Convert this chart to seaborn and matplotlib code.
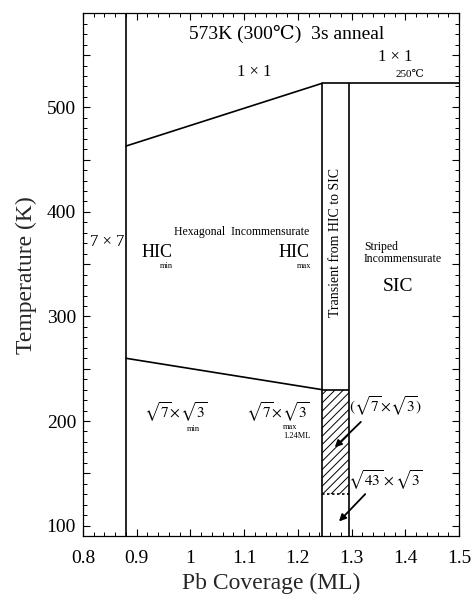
import matplotlib
matplotlib.use("Agg")
import matplotlib.pyplot as plt
from matplotlib.ticker import MultipleLocator, FuncFormatter
import seaborn as sns
import pandas as pd

# ---- data ----
x_7x7_edge = 0.88          # 7x7 / HIC boundary (ML)
x_hic_max = 1.245          # end of HIC region
x_sic = 1.295              # start of SIC region
upper_x = [0.88, 1.245]
upper_T = [463, 523]       # HIC -> 1x1 boundary
lower_x = [0.88, 1.245]
lower_T = [260, 230]       # sqrt7xsqrt3 -> HIC boundary
top_x = [1.245, 1.5]
top_T = [523, 523]         # 1x1 (250 C) line
hatch_x = [1.245, 1.295]
hatch_T = [130, 230]       # hatched (sqrt7 x sqrt3) zone
x_limits = [0.8, 1.5]
T_limits = [90, 590]

sns.set_theme(style="ticks")
plt.rcParams['font.family'] = ['Liberation Serif', 'DejaVu Serif', 'DejaVu Sans']
plt.rcParams['mathtext.fontset'] = 'stix'
plt.rcParams['hatch.linewidth'] = 0.7

fig = plt.figure(figsize=(4.75, 5.97), dpi=100)
ax = fig.add_axes([83/475, 1-536/597, (459-83)/475, (536-13.3)/597])

lw = 1.2
df_up = pd.DataFrame({"x": upper_x, "T": upper_T})
df_lo = pd.DataFrame({"x": lower_x, "T": lower_T})
df_top = pd.DataFrame({"x": top_x, "T": top_T})
sns.lineplot(data=df_up, x="x", y="T", color="black", lw=lw, ax=ax)
sns.lineplot(data=df_lo, x="x", y="T", color="black", lw=lw, ax=ax)
sns.lineplot(data=df_top, x="x", y="T", color="black", lw=lw, ax=ax)
ax.vlines([x_7x7_edge], T_limits[0], T_limits[1], color="black", lw=lw)
ax.vlines([x_hic_max, x_sic], T_limits[0], top_T[0], color="black", lw=lw)
# hatched zone
ax.fill_between(hatch_x, hatch_T[0], hatch_T[1], facecolor="none",
                edgecolor="black", hatch="////", linewidth=0)
ax.hlines(hatch_T[1], hatch_x[0], hatch_x[1], color="black", lw=lw)
ax.hlines(hatch_T[0], hatch_x[0], hatch_x[1], color="black", lw=1.2,
          linestyles=(0, (1.5, 1.5)))

ax.set_xlim(*x_limits)
ax.set_ylim(*T_limits)
ax.xaxis.set_major_locator(MultipleLocator(0.1))
ax.xaxis.set_minor_locator(MultipleLocator(0.02))
ax.yaxis.set_major_locator(MultipleLocator(50))
ax.yaxis.set_minor_locator(MultipleLocator(10))
ax.xaxis.set_major_formatter(FuncFormatter(lambda v, p: f"{v:g}"))
ax.yaxis.set_major_formatter(FuncFormatter(lambda v, p: f"{int(round(v))}" if round(v) % 100 == 0 else ""))
ax.tick_params(which="both", direction="in", top=True, right=True, colors="black")
ax.tick_params(which="major", length=5, width=0.8, labelsize=14)
ax.tick_params(which="minor", length=3, width=0.7)
ax.tick_params(axis="x", which="major", pad=10)
ax.tick_params(axis="y", which="major", pad=5)
for s in ax.spines.values():
    s.set_color("black")
    s.set_linewidth(0.9)
ax.set_xlabel("Pb Coverage (ML)", fontsize=17, labelpad=4)
ax.set_ylabel("Temperature (K)", fontsize=17, labelpad=7)

t = dict(color="black", ha="center", va="center")
ax.text(1.18, 570, "573K (300℃)  3s anneal", fontsize=14, **t)
ax.text(1.118, 534, "1 × 1", fontsize=12, **t)
ax.text(1.381, 548, "1 × 1", fontsize=12, **t)
ax.text(1.409, 531, "250℃", fontsize=8, **t)
ax.text(0.845, 371, "7 × 7", fontsize=12, **t)
ax.text(1.096, 381, "Hexagonal  Incommensurate", fontsize=8.5, **t)
ax.text(0.938, 361, "HIC", fontsize=13, **t)
ax.text(0.956, 348, "min", fontsize=6, **t)
ax.text(1.193, 361, "HIC", fontsize=13, **t)
ax.text(1.2115, 348, "max", fontsize=6, **t)
ax.text(1.27, 371, "Transient from HIC to SIC", fontsize=10, rotation=90, **t)
ax.text(1.323, 361, "Striped\nIncommensurate", fontsize=8.5, color="black",
        ha="left", va="center", linespacing=1.0)
ax.text(1.387, 329, "SIC", fontsize=14, **t)
ax.text(0.972, 208, r"$\sqrt{7}\!\times\!\sqrt{3}$", fontsize=11, **t)
ax.text(1.005, 192, "min", fontsize=6, **t)
ax.text(1.162, 208, r"$\sqrt{7}\!\times\!\sqrt{3}$", fontsize=11, **t)
ax.text(1.186, 194, "max", fontsize=6, **t)
ax.text(1.199, 186, "1.24ML", fontsize=6, **t)
ax.text(1.364, 214, r"$(\sqrt{7}\!\times\!\sqrt{3})$", fontsize=11, **t)
ax.text(1.364, 143, r"$\sqrt{43}\times\sqrt{3}$", fontsize=11, **t)
ax.annotate("", xy=(1.265, 173), xytext=(1.321, 201),
            arrowprops=dict(arrowstyle="-|>", color="black", lw=1.3, mutation_scale=10))
ax.annotate("", xy=(1.273, 102), xytext=(1.329, 132),
            arrowprops=dict(arrowstyle="-|>", color="black", lw=1.3, mutation_scale=10))

fig.savefig("out.png", dpi=100)
